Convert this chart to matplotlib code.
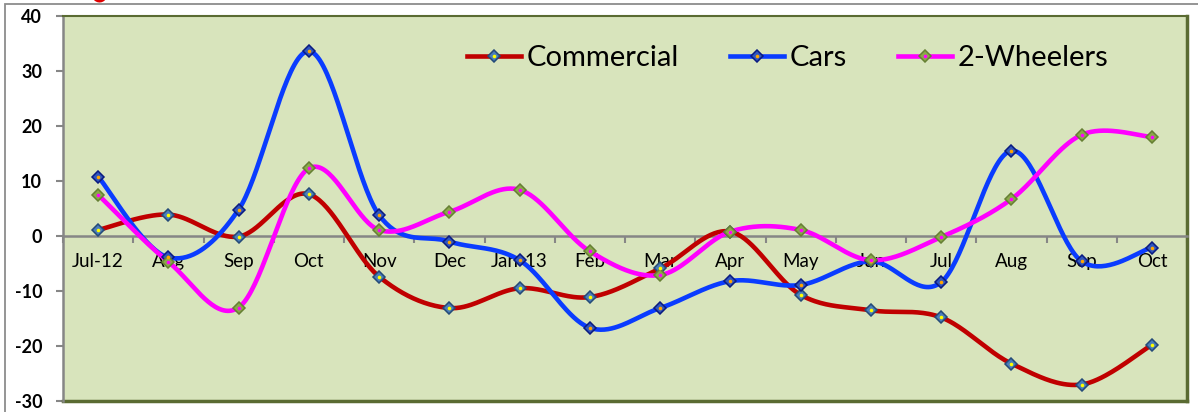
import numpy as np
import matplotlib
matplotlib.use("Agg")
import matplotlib.pyplot as plt
from matplotlib.lines import Line2D
from matplotlib.patches import Rectangle
from matplotlib.ticker import FixedLocator, NullFormatter

months = ['Jul-12', 'Aug', 'Sep', 'Oct', 'Nov', 'Dec', 'Jan-13', 'Feb', 'Mar',
          'Apr', 'May', 'Jun', 'Jul', 'Aug', 'Sep', 'Oct']
commercial = [1.1, 3.9, -0.1, 7.6, -7.4, -13.1, -9.5, -11.1, -5.9, 0.8,
              -10.7, -13.5, -14.8, -23.2, -27.0, -19.8]
cars = [10.8, -3.9, 4.8, 33.6, 3.8, -1.0, -4.4, -16.7, -13.1, -8.2,
        -8.9, -4.6, -8.4, 15.5, -4.6, -2.1]
two_wheelers = [7.5, -4.7, -13.0, 12.3, 1.1, 4.4, 8.4, -2.8, -7.1, 0.8,
                1.1, -4.4, -0.2, 6.7, 18.4, 18.0]
series_names = ['Commercial', 'Cars', '2-Wheelers']
y_ticks = [-30, -20, -10, 0, 10, 20, 30, 40]

FONT = 'Lato'


def smooth(y, n=40):
    """Excel-like smoothed line: Catmull-Rom Bezier through the points."""
    x = np.arange(len(y), dtype=float)
    y = np.asarray(y, dtype=float)
    P = np.column_stack([x, y])
    Pe = np.vstack([P[0], P, P[-1]])
    out = []
    t = np.linspace(0, 1, n)[:, None]
    for i in range(len(P) - 1):
        p0, p3 = Pe[i + 1], Pe[i + 2]
        c1 = p0 + (Pe[i + 2] - Pe[i]) / 6.0
        c2 = p3 - (Pe[i + 3] - Pe[i + 1]) / 6.0
        seg = ((1 - t) ** 3) * p0 + 3 * ((1 - t) ** 2) * t * c1 + 3 * (1 - t) * t ** 2 * c2 + t ** 3 * p3
        out.append(seg if i == 0 else seg[1:])
    s = np.vstack(out)
    return s[:, 0], s[:, 1]


fig = plt.figure(figsize=(11.98, 4.12), dpi=100)
ax = fig.add_axes([63 / 1198, 1 - 401 / 412, (1187 - 63) / 1198, (401 - 16) / 412])
ax.set_facecolor('#D8E4BC')

styles = [
    dict(color='#C00000', mfc='#4A7EBB', mec='#244A78', dot='#FFFF00'),
    dict(color='#0A3CFF', mfc='#2F56C0', mec='#0A1A80', dot='#FFA500'),
    dict(color='#FF00FF', mfc='#8BA84A', mec='#667F33', dot='#FF00FF'),
]
MS = 6.3
handles = []
for vals, name, st in zip([commercial, cars, two_wheelers], series_names, styles):
    sx, sy = smooth(vals)
    ax.plot(sx, sy, color=st['color'], lw=3.3, solid_capstyle='round', zorder=3)
    x = np.arange(len(vals))
    ax.plot(x, vals, ls='none', marker='D', ms=MS, mfc=st['mfc'], mec=st['mec'],
            mew=1.1, zorder=4)
    ax.plot(x, vals, ls='none', marker='o', ms=2.6, mfc=st['dot'], mec='none', zorder=5)
    h1 = Line2D([], [], color=st['color'], lw=3.3, marker='D', ms=MS,
                mfc=st['mfc'], mec=st['mec'], mew=1.1)
    h2 = Line2D([], [], ls='none', marker='o', ms=2.6, mfc=st['dot'], mec='none')
    handles.append((h1, h2))

ax.set_xlim(-0.5, len(months) - 0.5)
ax.set_ylim(-30, 40)

# spines
for s in ['top', 'right']:
    ax.spines[s].set_color('#5A6B32')
ax.spines['top'].set_linewidth(1.5)
ax.spines['right'].set_linewidth(2.5)
ax.spines['left'].set_color('#868686')
ax.spines['left'].set_linewidth(1.8)
ax.spines['bottom'].set_position(('data', 0))
ax.spines['bottom'].set_color('#868686')
ax.spines['bottom'].set_linewidth(1.8)
ax.axhline(-30, color='#5A6B32', lw=2.5, clip_on=False, zorder=2)

# y ticks
ax.set_yticks(y_ticks)
ax.set_yticklabels([str(v) for v in y_ticks], fontfamily=FONT, fontweight='bold',
                   fontsize=13)
ax.tick_params(axis='y', direction='out', length=5, width=1.5, color='#868686', pad=10)

# x ticks: marks at category boundaries, labels at categories
ax.xaxis.set_major_locator(FixedLocator(np.arange(len(months) + 1) - 0.5))
ax.xaxis.set_major_formatter(NullFormatter())
ax.xaxis.set_minor_locator(FixedLocator(np.arange(len(months))))
ax.set_xticklabels(months, minor=True, fontfamily=FONT, fontsize=13.5)
ax.tick_params(axis='x', which='major', direction='out', length=5, width=1.5,
               color='#868686')
ax.tick_params(axis='x', which='minor', length=0, pad=12)

leg = ax.legend(handles, series_names, ncol=3, frameon=False,
                loc='center left', bbox_to_anchor=(467 / 1198, 1 - 58 / 412),
                bbox_transform=fig.transFigure, borderpad=0, borderaxespad=0,
                handlelength=1.85, handletextpad=0.2, columnspacing=1.75,
                prop=dict(family=FONT, size=21))

# outer chart frame (partially visible)
fig.add_artist(Rectangle((5 / 1198, -0.2), 2.0, 1.2 - 3.5 / 412, transform=fig.transFigure,
                         fill=False, edgecolor='#8C8C8C', lw=1.3))
# clipped title at the very top (only its lowest pixels show, as in the source)
fig.text(91 / 1198, 1 + 6 / 412, '\u25CF', color='#E00000', fontsize=14,
         va='center', ha='left', family='DejaVu Sans')
fig.text(118 / 1198, 1 + 4 / 412, 'Fig: Domestic auto sales: segment-wise growth (%) in volumes, y-o-y (monthly)',
         color='black', fontsize=15, va='baseline', ha='left', family=FONT)

fig.savefig('out.png', dpi=100)
